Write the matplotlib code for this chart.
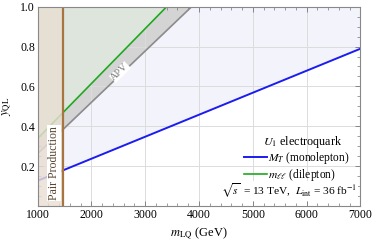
import numpy as np
import matplotlib.pyplot as plt
from matplotlib.ticker import MultipleLocator

plt.rcParams['font.family'] = ['Liberation Serif', 'DejaVu Serif']
plt.rcParams['mathtext.fontset'] = 'stix'

# limit lines y_QL(m_LQ) at the two ends
m_lq = [1000, 7000]
mono_y = [0.127, 0.789]    # M_T (monolepton)
dilep_x = [1000, 3398]
dilep_y = [0.339, 1.0]     # m_ll (dilepton)
apv_x = [1000, 3862]
apv_y = [0.263, 1.0]       # APV
m_pair = 1465              # pair production bound

fig = plt.figure(figsize=(3.74, 2.41), dpi=100)
ax = fig.add_axes([0.1008, 0.1452, 0.8626, 0.827])

xs = np.linspace(1000, 7000, 400)
mono = np.interp(xs, m_lq, mono_y)
dil = np.interp(xs, dilep_x, dilep_y, right=1.0)
apv = np.interp(xs, apv_x, apv_y, right=1.0)

ax.fill_between(xs, mono, 1.0, color='#f3f3fc', lw=0, zorder=1)
ax.fill_between(xs, apv, 1.0, color='#d4d4d4', lw=0, zorder=2)
ax.fill_between(xs, dil, 1.0, color='#dde5dd', lw=0, zorder=3)

ax.plot(m_lq, mono_y, color='#1c1cf0', lw=1.4, zorder=5, label=r'$M_T$ (monolepton)')
ax.plot(dilep_x, dilep_y, color='#1fa81f', lw=1.2, zorder=5, label=r'$m_{\ell\ell}$ (dilepton)')
ax.plot(apv_x, apv_y, color='#8c8c8c', lw=1.2, zorder=5)

ax.axvspan(1000, m_pair, color='#e9dfd3', alpha=0.82, lw=0, zorder=6)
ax.axvline(m_pair, color='#a87440', lw=1.6, zorder=7)

ax.text(m_pair - 55, 0.03, 'Pair Production', rotation=90, ha='right', va='bottom',
        fontsize=8.5, color='#5a4632', zorder=8,
        bbox=dict(facecolor='white', edgecolor='none', pad=0.6))
ax.text(2530, 0.672, 'APV', rotation=44, ha='center', va='center', fontsize=7.5,
        color='#777777', zorder=8,
        bbox=dict(facecolor='white', edgecolor='none', pad=0.3))

ax.set_xlim(1000, 7000)
ax.set_ylim(0.0, 1.0)
ax.set_xticks([1000, 2000, 3000, 4000, 5000, 6000, 7000])
ax.set_yticks([0.2, 0.4, 0.6, 0.8, 1.0])
ax.xaxis.set_minor_locator(MultipleLocator(200))
ax.yaxis.set_minor_locator(MultipleLocator(0.05))
ax.tick_params(which='both', direction='in', top=True, right=True, color='#777777',
               labelsize=8.5, pad=2)
ax.tick_params(which='major', length=3.5, width=0.6)
ax.tick_params(which='minor', length=2, width=0.5)
ax.grid(True, which='major', color='#dcdcdc', lw=0.7, zorder=4)
ax.set_axisbelow(False)
for s in ax.spines.values():
    s.set_color('#888888')
    s.set_linewidth(0.8)
    s.set_zorder(10)

ax.set_xlabel(r'$m_{\mathrm{LQ}}$ (GeV)', fontsize=9, labelpad=3)
ax.set_ylabel(r'$y_{\mathrm{QL}}$', fontsize=9, labelpad=4)

ax.text(0.945, 0.322, r'$U_1$ electroquark', transform=ax.transAxes, ha='right',
        va='center', fontsize=8.7, zorder=9)
leg = ax.legend(loc='center left', bbox_to_anchor=(0.638, 0.197), frameon=False,
                fontsize=8.3, handlelength=2.0, handletextpad=0.1, labelspacing=0.12,
                borderpad=0, borderaxespad=0)
leg.set_zorder(9)
ax.text(0.99, 0.075, r'$\sqrt{s}\,$ = 13 TeV,  $L_{\mathrm{int}}$ = 36 fb$^{-1}$',
        transform=ax.transAxes, ha='right', va='center', fontsize=8.2, zorder=9,
        bbox=dict(facecolor='white', edgecolor='none', pad=0.5))

fig.savefig('out.png', dpi=100)
